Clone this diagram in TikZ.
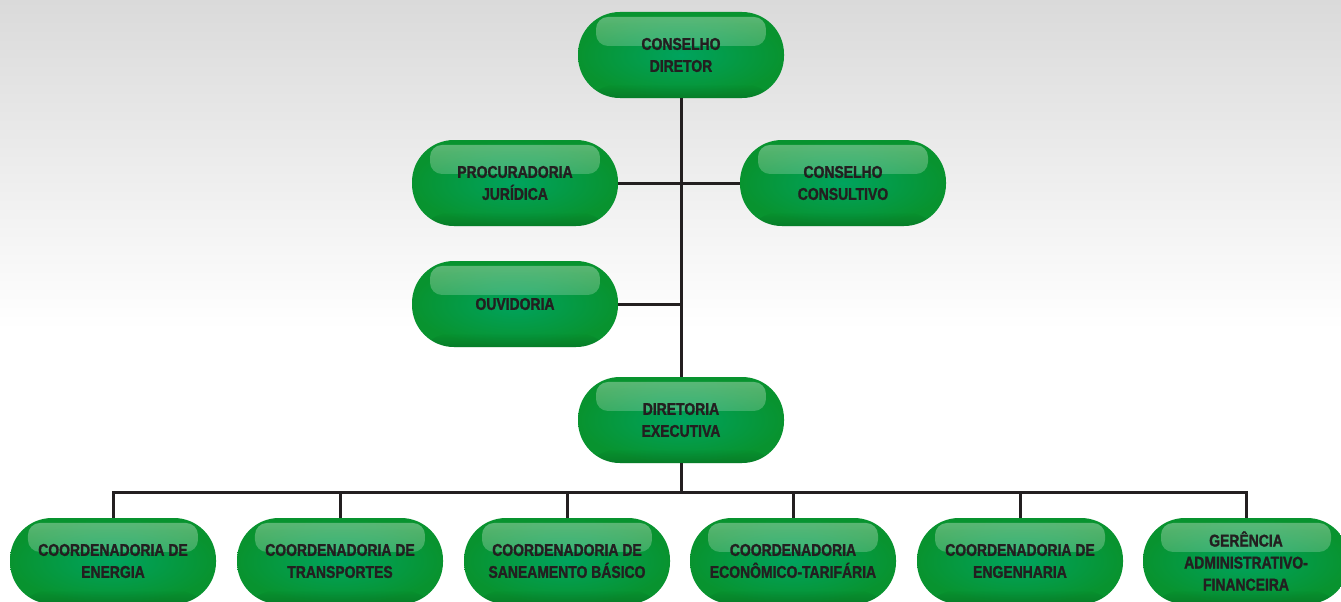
\documentclass[tikz,border=0pt]{standalone}
\usepackage{fontspec}
\newfontfamily\pillfont{Liberation Sans Bold}[FakeStretch=0.82,FakeBold=1.4]
\usetikzlibrary{calc,fadings}
\definecolor{pillin}{HTML}{00A35E}
\definecolor{pillout}{HTML}{08932F}
\definecolor{linecol}{HTML}{231F20}
\definecolor{txtcol}{HTML}{231F20}
\definecolor{bgtop}{HTML}{DADADA}
\definecolor{bgmid}{HTML}{F6F6F6}
\tikzset{
  pill/.style={rectangle, rounded corners=42pt, minimum width=206pt, minimum height=86pt,
    inner sep=0pt, align=center, text=txtcol,
    font=\pillfont\fontsize{17}{22}\selectfont,
    inner color=pillin, outer color=pillout,
    path picture={
      \fill[white, path fading=south, opacity=0.35, rounded corners=12pt]
        ([xshift=18pt,yshift=-5pt]path picture bounding box.north west) rectangle
        ([xshift=-18pt,yshift=-34pt]path picture bounding box.north east);
      \fill[black, path fading=north, opacity=0.15]
        ([yshift=14pt]path picture bounding box.south west) rectangle
        (path picture bounding box.south east);
    }},
  link/.style={draw=linecol, line width=3pt}
}
\begin{document}
\begin{tikzpicture}[x=1pt,y=-1pt]
\useasboundingbox (0,0) rectangle (1341,602);
\clip (0,0) rectangle (1341,602);
\shade[top color=bgtop, middle color=bgmid, bottom color=white] (0,0) rectangle (1341,330);
\fill[white] (0,330) rectangle (1341,602);

\node[pill] (cd) at (681,55) {CONSELHO\\DIRETOR};
\node[pill] (pj) at (515,183) {PROCURADORIA\\JURÍDICA};
\node[pill] (cc) at (843,183) {CONSELHO\\CONSULTIVO};
\node[pill] (ov) at (515,304) {OUVIDORIA};
\node[pill] (de) at (681,420) {DIRETORIA\\EXECUTIVA};

\node[pill] (b1) at (113,561) {COORDENADORIA DE\\ENERGIA};
\node[pill] (b2) at (340,561) {COORDENADORIA DE\\TRANSPORTES};
\node[pill] (b3) at (567,561) {COORDENADORIA DE\\SANEAMENTO BÁSICO};
\node[pill] (b4) at (793,561) {COORDENADORIA\\ECONÔMICO-TARIFÁRIA};
\node[pill] (b5) at (1020,561) {COORDENADORIA DE\\ENGENHARIA};
\node[pill] (b6) at (1246,561) {GERÊNCIA\\ADMINISTRATIVO-\\FINANCEIRA};

\coordinate (bus) at (681,492);

\draw[link] (cd.south) -- (de.north);
\draw[link] (pj.east) -- (cc.west);
\draw[link] (ov.east) -- (ov.east -| cd.south);
\draw[link] (de.south) -- (bus);
\foreach \b in {b1,b2,b3,b4,b5,b6}{
  \draw[link] (bus) -| (\b.north);
}
\end{tikzpicture}
\end{document}
